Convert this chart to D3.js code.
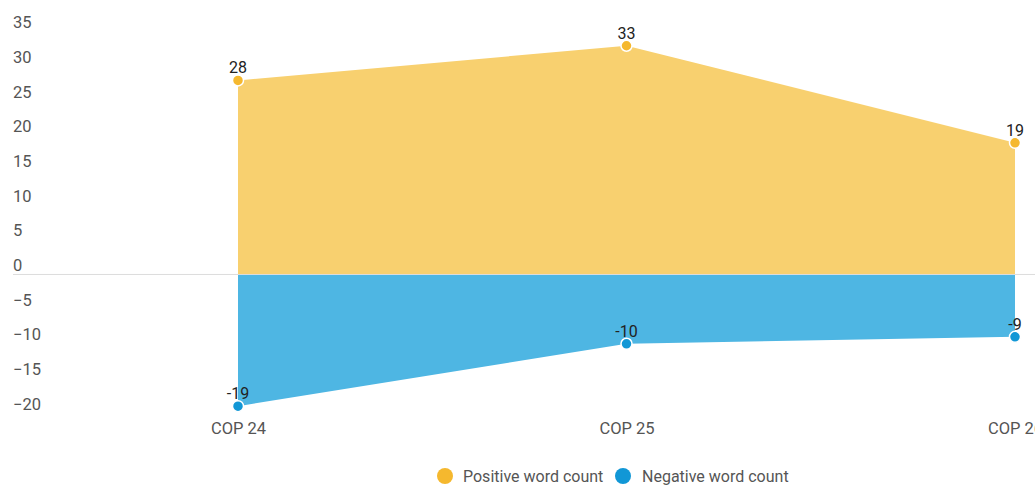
<!DOCTYPE html>
<html><head><meta charset="utf-8">
<script src="https://cdn.jsdelivr.net/npm/d3@7"></script>
<style>
body{margin:0;background:#fff;overflow:hidden}
svg{display:block;font-family:Roboto,"Noto Sans",sans-serif}
</style></head>
<body><svg id="c" width="1035" height="485"></svg>
<script>
const categories = ["COP 24", "COP 25", "COP 26"];
const positive = [28, 33, 19];
const negative = [-19, -10, -9];
const yTicks = [35, 30, 25, 20, 15, 10, 5, 0, -5, -10, -15, -20];
const seriesNames = ["Positive word count", "Negative word count"];

const W = 1035, H = 485;
const svg = d3.select("#c");
const x = d3.scalePoint().domain(categories).range([238, 1015]);
const y = d3.scaleLinear().domain([-20, 35]).range([413.1, 31.9]);

const colors = {pos: {area: "#F8D06F", dot: "#F5B82E"}, neg: {area: "#4EB6E3", dot: "#1197D6"}};

// y axis labels
const ya = svg.append("g").attr("transform", "translate(13,0)")
  .call(d3.axisLeft(y).tickValues(yTicks).tickSize(0).tickFormat(d3.format("d")));
ya.select(".domain").remove();
ya.selectAll("text").attr("x", 0).attr("dy", "-4").attr("text-anchor", "start")
  .attr("font-size", 16.5).attr("fill", "#555").style("font-family", "Roboto");

// areas
const posData = categories.map((c, i) => ({c, v: positive[i]}));
const negData = categories.map((c, i) => ({c, v: negative[i]}));
const area = d3.area().x(d => x(d.c)).y0(y(0)).y1(d => y(d.v));
svg.append("path").datum(posData).attr("d", area).attr("fill", colors.pos.area);
svg.append("path").datum(negData).attr("d", area).attr("fill", colors.neg.area);

// zero line
svg.append("line").attr("x1", 13).attr("x2", W).attr("y1", y(0)).attr("y2", y(0))
  .attr("stroke", "#ddd").attr("stroke-width", 1);

// dots and labels
function drawSeries(data, col) {
  svg.append("g").selectAll("circle").data(data).join("circle")
    .attr("cx", d => x(d.c)).attr("cy", d => y(d.v)).attr("r", 5.5)
    .attr("fill", col.dot).attr("stroke", "#fff").attr("stroke-width", 1.5);
  svg.append("g").selectAll("text").data(data).join("text")
    .attr("x", d => x(d.c)).attr("y", d => y(d.v) - 7)
    .attr("text-anchor", "middle").attr("font-size", 16).attr("fill", "#222")
    .text(d => d.v);
}
drawSeries(posData, colors.pos);
drawSeries(negData, colors.neg);

// x axis labels
const xa = svg.append("g").attr("transform", "translate(0,434)")
  .call(d3.axisBottom(x).tickSize(0));
xa.select(".domain").remove();
xa.selectAll("text").attr("y", 0).attr("dy", 0).attr("font-size", 16.5).attr("fill", "#555")
  .style("font-family", "Roboto");

// legend
const legend = [{name: seriesNames[0], col: colors.pos.dot, cx: 445, tx: 463},
                {name: seriesNames[1], col: colors.neg.dot, cx: 623, tx: 642}];
const lg = svg.append("g");
legend.forEach(l => {
  lg.append("circle").attr("cx", l.cx).attr("cy", 476).attr("r", 8).attr("fill", l.col);
  lg.append("text").attr("x", l.tx).attr("y", 481.5).attr("font-size", 16).attr("fill", "#555").text(l.name);
});
</script></body></html>
